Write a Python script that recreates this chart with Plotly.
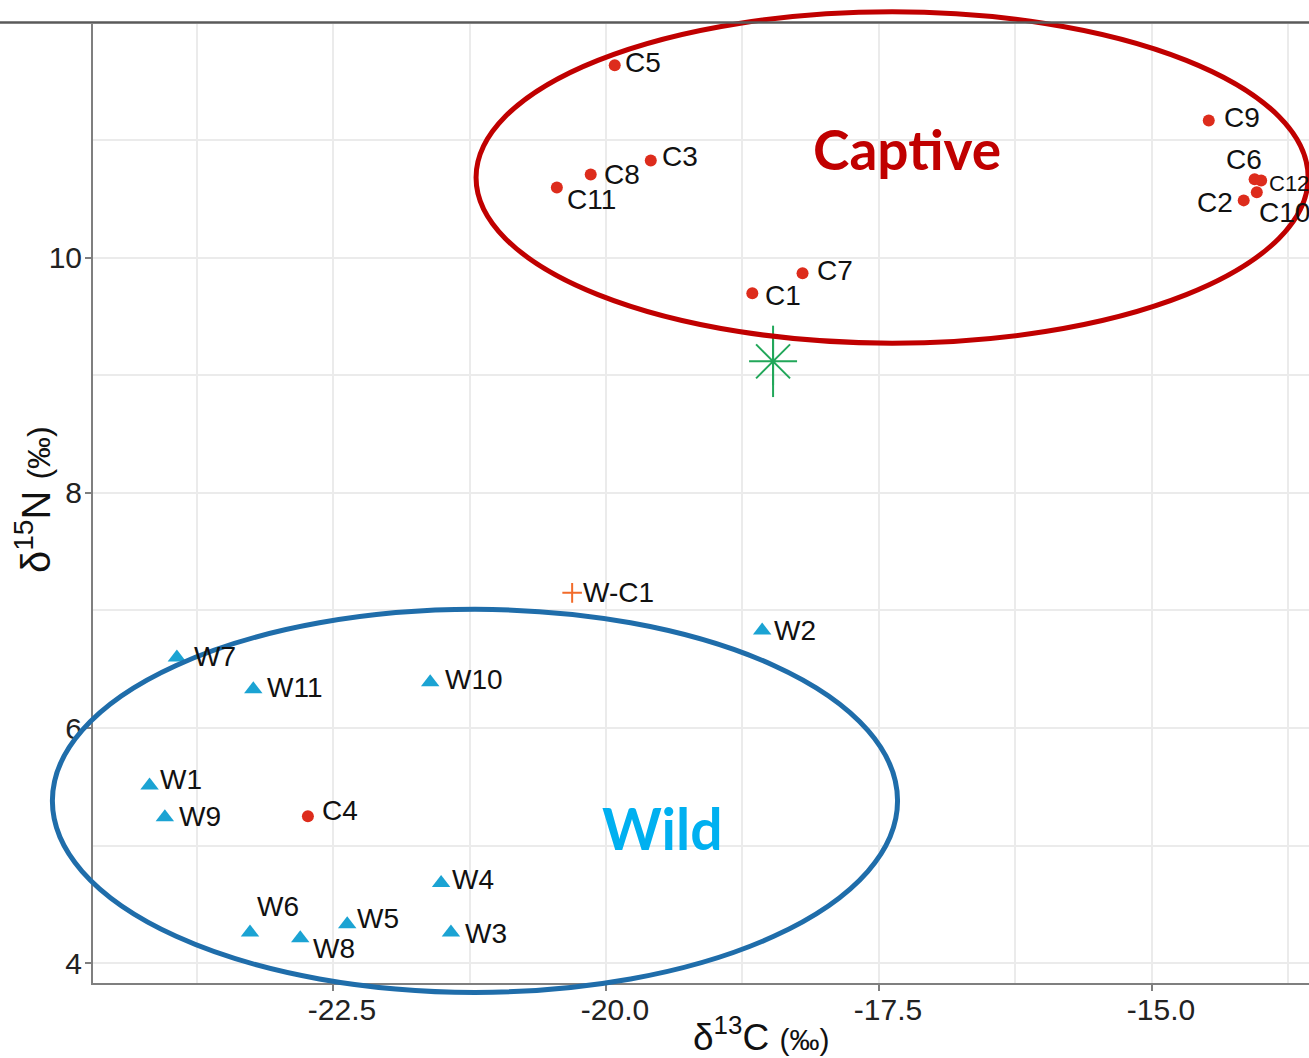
import plotly.graph_objects as go

# ---------------- data ----------------
captive_labels = ["C1", "C2", "C3", "C4", "C5", "C6", "C7", "C8", "C9", "C10", "C11", "C12"]
captive_x = [-18.66, -14.16, -19.59, -22.73, -19.92, -14.06, -18.20, -20.14, -14.48, -14.04, -20.45, -14.00]
captive_y = [9.70, 10.49, 10.83, 5.25, 11.64, 10.67, 9.87, 10.71, 11.17, 10.56, 10.60, 10.66]

wild_labels = ["W1", "W2", "W3", "W4", "W5", "W6", "W7", "W8", "W9", "W10", "W11"]
wild_x = [-24.18, -18.57, -21.42, -21.51, -22.37, -23.26, -23.93, -22.80, -24.04, -21.61, -23.23]
wild_y = [5.51, 6.83, 4.26, 4.68, 4.33, 4.26, 6.60, 4.21, 5.24, 6.39, 6.33]

hybrid_labels = ["W-C1"]
hybrid_x = [-20.31]
hybrid_y = [7.15]

centroid_x = [-18.47]
centroid_y = [9.12]

# group ellipses (centre x, centre y, semi-axis x, semi-axis y) in data units
captive_ellipse = (-17.38, 10.685, 3.81, 1.41)
wild_ellipse = (-21.20, 5.38, 3.87, 1.63)
captive_text_pos = (-17.24, 10.93)
wild_text_pos = (-19.48, 5.15)

x_ticks = [-22.5, -20.0, -17.5, -15.0]
y_ticks = [4, 6, 8, 10]

# ---------------- layout constants ----------------
W, H = 1309, 1058
ML, MR, MT, MB = 93, 0, 24, 75
PW, PH = W - ML - MR, H - MT - MB
XR = [-24.698, -13.562]
YR = [3.830, 11.991]

RED = "#DD2C1C"
BLUE = "#1BA3D3"
GREEN = "#22A75A"
ORANGE = "#F26B2A"
LABEL_FONT = dict(family="Liberation Sans, Arial, sans-serif", size=28, color="#111111")

# label offsets in pixels (dx right, dy down) and anchor
label_style = {
    "C1": (11, 2, "left"), "C2": (-9, 2, "right"), "C3": (9, -4, "left"),
    "C4": (12, -6, "left"), "C5": (8, -3, "left"), "C6": (-11, -20, "center"),
    "C7": (12, -3, "left"), "C8": (11, 0, "left"), "C9": (13, -3, "left"),
    "C10": (0, 20, "left"), "C11": (8, 12, "left"), "C12": (6, 3, "left"),
    "W1": (8, -6, "left"), "W2": (10, 0, "left"), "W3": (12, 1, "left"),
    "W4": (9, -4, "left"), "W5": (8, -6, "left"), "W6": (5, -26, "left"),
    "W7": (15, -1, "left"), "W8": (11, 10, "left"), "W9": (12, -1, "left"),
    "W10": (13, -3, "left"), "W11": (12, -2, "left"), "W-C1": (9, 0, "left"),
}


def to_px(x):
    return (x - XR[0]) / (XR[1] - XR[0])


def to_py(y):
    return (y - YR[0]) / (YR[1] - YR[0])


fig = go.Figure()

fig.add_trace(go.Scatter(
    x=captive_x, y=captive_y, mode="markers", name="Captive",
    marker=dict(symbol="circle", size=12, color=RED), cliponaxis=False))
fig.add_trace(go.Scatter(
    x=wild_x, y=wild_y, mode="markers", name="Wild",
    marker=dict(symbol="triangle-up", size=16, color=BLUE), cliponaxis=False))
fig.add_trace(go.Scatter(
    x=hybrid_x, y=hybrid_y, mode="markers", name="W-C",
    marker=dict(symbol="cross-thin-open", size=14, color=ORANGE,
                line=dict(color=ORANGE, width=2))))
fig.add_trace(go.Scatter(
    x=centroid_x, y=centroid_y, mode="markers", name="centroid",
    marker=dict(symbol="asterisk-open", size=40, color=GREEN,
                line=dict(color=GREEN, width=2))))
fig.add_trace(go.Scatter(
    x=centroid_x, y=centroid_y, mode="markers", name="centroid2",
    marker=dict(symbol="line-ns-open", size=51, color=GREEN,
                line=dict(color=GREEN, width=2))))

annotations = []
for labs, xs, ys in [(captive_labels, captive_x, captive_y),
                     (wild_labels, wild_x, wild_y),
                     (hybrid_labels, hybrid_x, hybrid_y)]:
    for lab, x, y in zip(labs, xs, ys):
        dx, dy, anc = label_style[lab]
        font = dict(LABEL_FONT)
        if lab == "C12":
            font["size"] = 22
        annotations.append(dict(
            x=x, y=y, xref="x", yref="y", text=lab, showarrow=False,
            xanchor=anc, yanchor="middle", xshift=dx, yshift=-dy, font=font))

annotations.append(dict(
    x=captive_text_pos[0], y=captive_text_pos[1], xref="x", yref="y",
    text="<b>Captive</b>", showarrow=False, xanchor="center", yanchor="middle",
    font=dict(family="Lato, sans-serif", size=55, color="#C00000")))
annotations.append(dict(
    x=wild_text_pos[0], y=wild_text_pos[1], xref="x", yref="y",
    text="<b>Wild</b>", showarrow=False, xanchor="center", yanchor="middle",
    font=dict(family="Lato, sans-serif", size=57, color="#00B0F0")))

# axis titles
annotations.append(dict(
    x=(761 - ML) / PW, y=(H - MB - 1034) / PH, xref="paper", yref="paper",
    text="δ<sup>13</sup>C <span style='font-size:30px'>(‰)</span>", showarrow=False,
    xanchor="center", yanchor="middle",
    font=dict(family="Liberation Sans, Arial, sans-serif", size=37, color="#111111")))
annotations.append(dict(
    x=(33 - ML) / PW, y=(H - MB - 500) / PH, xref="paper", yref="paper",
    text="δ<sup>15</sup>N <span style='font-size:32px'>(‰)</span>", showarrow=False,
    textangle=-90, xanchor="center", yanchor="middle",
    font=dict(family="Liberation Sans, Arial, sans-serif", size=40, color="#111111")))

shapes = []
for (cx, cy, ax, ay), col, wdt in [(captive_ellipse, "#C00000", 5),
                                   (wild_ellipse, "#1F6DAA", 5)]:
    shapes.append(dict(
        type="circle", xref="paper", yref="paper",
        x0=to_px(cx - ax), x1=to_px(cx + ax), y0=to_py(cy - ay), y1=to_py(cy + ay),
        line=dict(color=col, width=wdt), layer="above"))
# top border line of the panel
shapes.append(dict(type="line", xref="paper", yref="paper",
                   x0=-ML / PW, x1=1, y0=1 + 1.5 / PH, y1=1 + 1.5 / PH,
                   line=dict(color="#5a5a5a", width=2.5)))

GRID = "#EBEBEB"
TICKFONT = dict(family="Liberation Sans, Arial, sans-serif", size=30, color="#222222")
fig.update_layout(
    width=W, height=H,
    margin=dict(l=ML, r=MR, t=MT, b=MB, pad=0),
    paper_bgcolor="white", plot_bgcolor="white",
    showlegend=False,
    annotations=annotations, shapes=shapes,
    xaxis=dict(
        range=XR, tickmode="array", tickvals=x_ticks,
        ticktext=[f"{v:.1f}" for v in x_ticks],
        showgrid=True, gridcolor=GRID, gridwidth=2, zeroline=False,
        minor=dict(tickmode="linear", tick0=-23.75, dtick=2.5, showgrid=True,
                   gridcolor=GRID, gridwidth=2, ticks=""),
        showline=True, linecolor="#7f7f7f", linewidth=2,
        ticks="outside", ticklen=6, tickwidth=1.5, tickcolor="#7f7f7f",
        ticklabelshift=9, ticklabelstandoff=-7, tickfont=TICKFONT,
    ),
    yaxis=dict(
        range=YR, tickmode="array", tickvals=y_ticks,
        ticktext=[str(v) for v in y_ticks],
        showgrid=True, gridcolor=GRID, gridwidth=2, zeroline=False,
        minor=dict(tickmode="linear", tick0=5, dtick=2, showgrid=True,
                   gridcolor=GRID, gridwidth=2, ticks=""),
        showline=True, linecolor="#7f7f7f", linewidth=2,
        ticks="outside", ticklen=6, tickwidth=1.5, tickcolor="#7f7f7f",
        ticklabelstandoff=-3, tickfont=TICKFONT,
    ),
)

fig.write_html(
    "out.html",
    config={"displayModeBar": False},
    post_script="document.body.style.margin='0';document.body.style.overflow='hidden';",
)
